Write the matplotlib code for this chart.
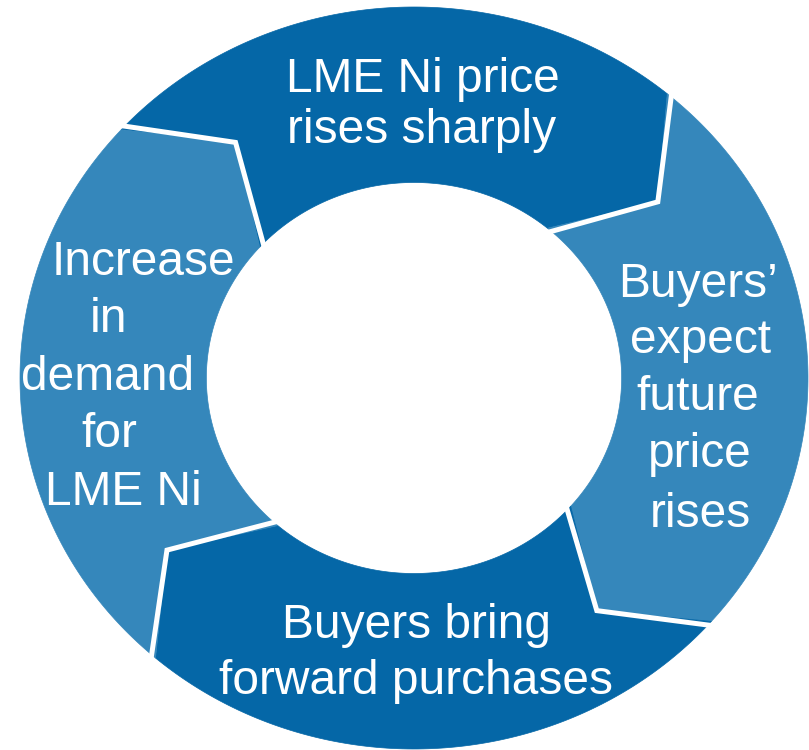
import numpy as np
import matplotlib
matplotlib.use("Agg")
import matplotlib.pyplot as plt
from matplotlib.patches import Polygon

# cycle steps, clockwise from the top, broken into lines as in the picture
step_lines = [["LME Ni price", "rises sharply"],
              ["Buyers’", "expect", "future", "price", "rises"],
              ["Buyers bring", "forward purchases"],
              ["Increase", "in", "demand", "for", "LME Ni"]]
colours = ["#0567A7", "#3587BB", "#0567A7", "#3587BB"]

# boundary angles (deg) between the segments: top-left, top-right, bottom-right, bottom-left
bounds = [138, 50, -41, -131]

# ring geometry in picture pixels
cx, cy = 414, 378
rx, ry = 394, 371
r_in = 0.527
tip_r = 0.78
tip_off = -12.5

# line positions (centre x, baseline y) for each label
line_pos = [[(423, 92), (422, 143)],
            [(698, 297), (701, 353), (698, 410), (700, 467), (700, 527)],
            [(417, 638), (416, 694)],
            [(143, 275), (109, 332), (108, 390), (109, 447), (123, 505)]]


def pt(theta, r):
    t = np.radians(theta)
    return cx + rx * r * np.cos(t), cy - ry * r * np.sin(t)


fig = plt.figure(figsize=(8.09, 7.5), dpi=100)
ax = fig.add_axes([0, 0, 1, 1])
ax.set_xlim(0, 809)
ax.set_ylim(750, 0)
ax.axis("off")

# each segment runs clockwise from angle a to angle b
for i in range(4):
    a = bounds[i - 1] if i > 0 else bounds[3] + 360
    b = bounds[i] if i > 0 else bounds[0]
    a, b = (bounds[i], bounds[(i + 1) % 4]) if i < 3 else (bounds[3] + 360, bounds[0])
    th = np.linspace(a, b, 120)
    outer = [pt(t, 1.0) for t in th]
    inner = [pt(t, r_in) for t in th[::-1]]
    verts = outer + [pt(b + tip_off, tip_r)] + inner + [pt(a + tip_off, tip_r)]
    ax.add_patch(Polygon(verts, closed=True, facecolor=colours[i],
                         edgecolor=colours[i], linewidth=0.5))

# white separators
for b in bounds:
    p = [pt(b, 1.02), pt(b + tip_off, tip_r), pt(b, r_in - 0.02)]
    ax.plot([q[0] for q in p], [q[1] for q in p], color="white",
            linewidth=3.6, solid_joinstyle="miter", solid_capstyle="butt")

for lines, pos in zip(step_lines, line_pos):
    for txt, (x, y) in zip(lines, pos):
        ax.text(x, y, txt, ha="center", va="baseline", color="white",
                fontsize=34.5, family="Liberation Sans")

fig.savefig("out.png", dpi=100)
